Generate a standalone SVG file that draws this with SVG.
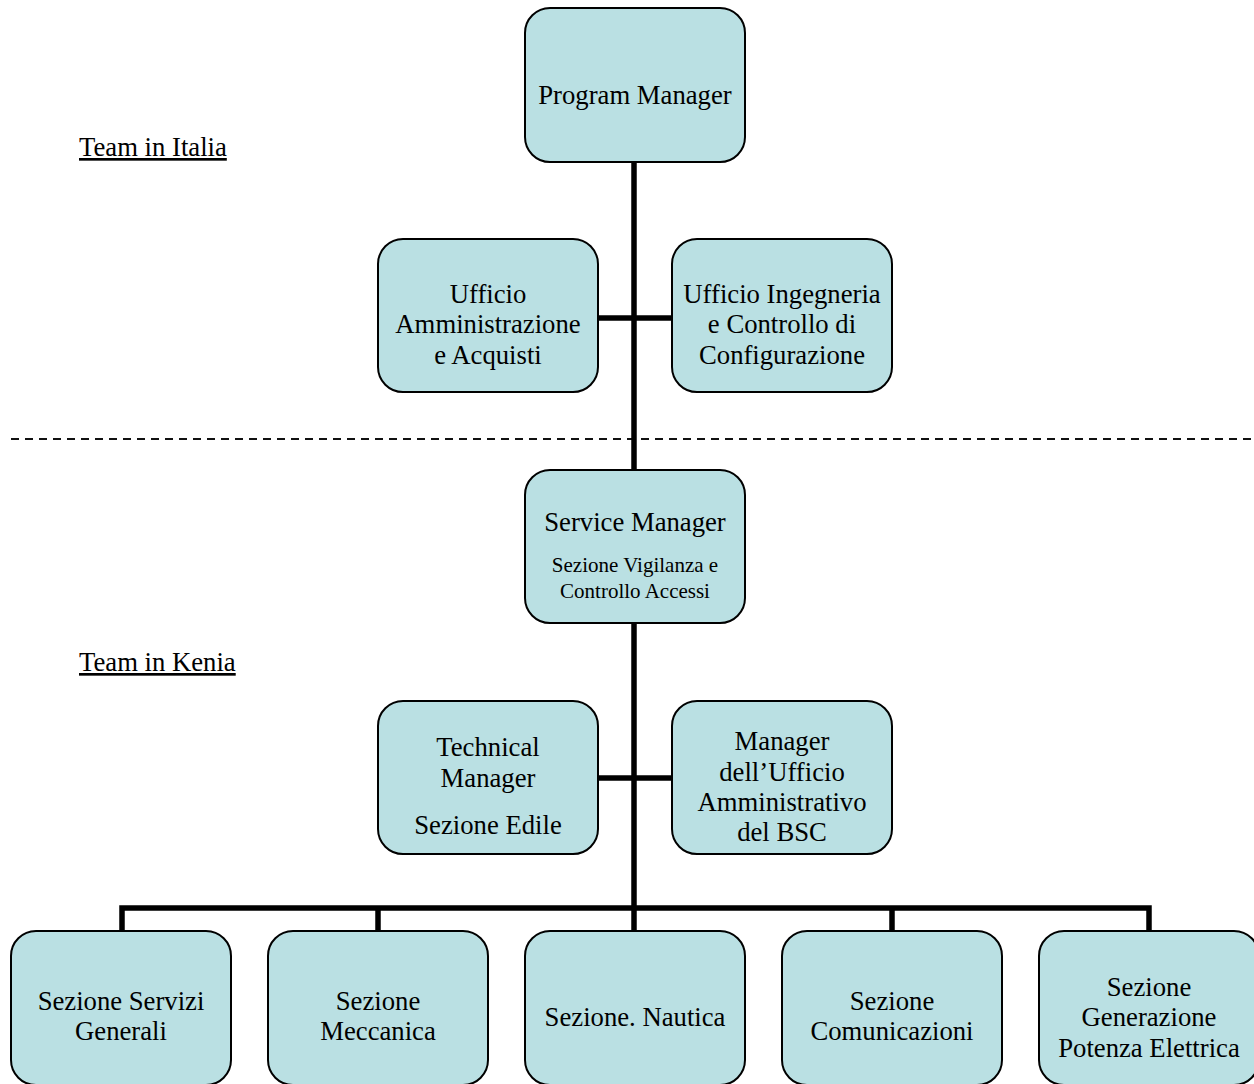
<svg xmlns="http://www.w3.org/2000/svg" width="1254" height="1084" viewBox="0 0 1254 1084">
<style>
.node{fill:#BAE0E3;stroke:#000;stroke-width:2}
.t{font-family:"Liberation Serif","Times New Roman",serif;font-size:26.7px;fill:#000;text-anchor:middle}
.s{font-size:21px}
.lbl{font-family:"Liberation Serif","Times New Roman",serif;font-size:26.7px;fill:#000;text-decoration:underline}
.con{stroke:#000;stroke-width:5.5;fill:none}
</style>
<rect width="1254" height="1084" fill="#fff"/>
<line x1="11" y1="439" x2="1254" y2="439" stroke="#111" stroke-width="2" stroke-dasharray="8 6"/>
<text class="lbl" x="79" y="156">Team in Italia</text>
<text class="lbl" x="79" y="671">Team in Kenia</text>
<g id="connectors">
<line class="con" x1="634" y1="162" x2="634" y2="470"/>
<line class="con" x1="598" y1="318" x2="672" y2="318"/>
<line class="con" x1="634" y1="623" x2="634" y2="931"/>
<line class="con" x1="598" y1="778" x2="672" y2="778"/>
<polyline class="con" points="122,931 122,908 1149,908 1149,931"/>
<line class="con" x1="378" y1="908" x2="378" y2="931"/>
<line class="con" x1="892" y1="908" x2="892" y2="931"/>
</g>
<g id="program-manager"><rect class="node" x="525" y="8" width="220" height="154" rx="25"/><text class="t" x="635" y="104">Program Manager</text></g>
<g id="ufficio-amministrazione"><rect class="node" x="378" y="239" width="220" height="153" rx="25"/><text class="t" x="488" y="303">Ufficio</text><text class="t" x="488" y="333">Amministrazione</text><text class="t" x="488" y="364">e Acquisti</text></g>
<g id="ufficio-ingegneria"><rect class="node" x="672" y="239" width="220" height="153" rx="25"/><text class="t" x="782" y="303">Ufficio Ingegneria</text><text class="t" x="782" y="333">e Controllo di</text><text class="t" x="782" y="364">Configurazione</text></g>
<g id="service-manager"><rect class="node" x="525" y="470" width="220" height="153" rx="25"/><text class="t" x="635" y="531">Service Manager</text><text class="t s" x="635" y="572">Sezione Vigilanza e</text><text class="t s" x="635" y="598">Controllo Accessi</text></g>
<g id="technical-manager"><rect class="node" x="378" y="701" width="220" height="153" rx="25"/><text class="t" x="488" y="756">Technical</text><text class="t" x="488" y="787">Manager</text><text class="t" x="488" y="834">Sezione Edile</text></g>
<g id="manager-ufficio"><rect class="node" x="672" y="701" width="220" height="153" rx="25"/><text class="t" x="782" y="750">Manager</text><text class="t" x="782" y="781">dell’Ufficio</text><text class="t" x="782" y="811">Amministrativo</text><text class="t" x="782" y="841">del BSC</text></g>
<g id="servizi-generali"><rect class="node" x="11" y="931" width="220" height="154" rx="25"/><text class="t" x="121" y="1010">Sezione Servizi</text><text class="t" x="121" y="1040">Generali</text></g>
<g id="meccanica"><rect class="node" x="268" y="931" width="220" height="154" rx="25"/><text class="t" x="378" y="1010">Sezione</text><text class="t" x="378" y="1040">Meccanica</text></g>
<g id="nautica"><rect class="node" x="525" y="931" width="220" height="154" rx="25"/><text class="t" x="635" y="1026">Sezione. Nautica</text></g>
<g id="comunicazioni"><rect class="node" x="782" y="931" width="220" height="154" rx="25"/><text class="t" x="892" y="1010">Sezione</text><text class="t" x="892" y="1040">Comunicazioni</text></g>
<g id="generazione"><rect class="node" x="1039" y="931" width="220" height="154" rx="25"/><text class="t" x="1149" y="996">Sezione</text><text class="t" x="1149" y="1026">Generazione</text><text class="t" x="1149" y="1057">Potenza Elettrica</text></g>
</svg>
